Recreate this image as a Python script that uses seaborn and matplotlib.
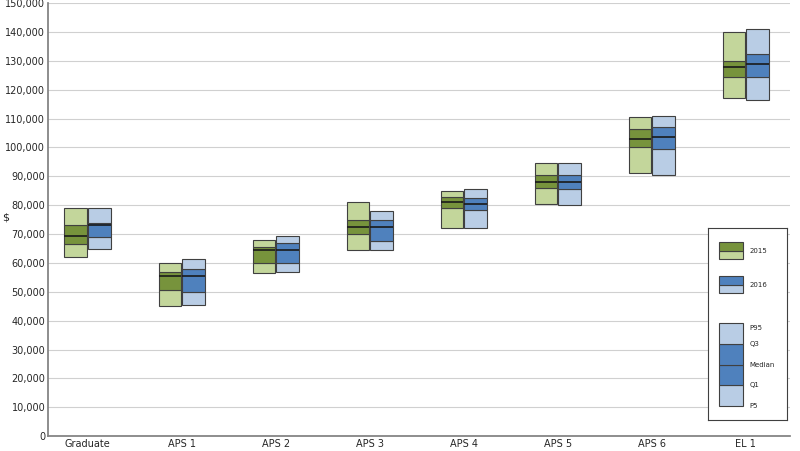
import matplotlib
matplotlib.use("Agg")
import matplotlib.pyplot as plt
import seaborn as sns
import numpy as np
from matplotlib.patches import Rectangle

categories = ["Graduate", "APS 1", "APS 2", "APS 3", "APS 4", "APS 5", "APS 6", "EL 1"]
# thousands of $
p5_2015 = [62, 45, 56.5, 64.5, 72, 80.5, 91, 117]
q1_2015 = [66.5, 50.5, 60, 70, 79, 86, 100, 124.5]
med_2015 = [69.5, 55.5, 64.5, 72.5, 81, 88, 103, 128]
q3_2015 = [73, 57, 65.5, 75, 83, 90.5, 106.5, 130]
p95_2015 = [79, 60, 68, 81, 85, 94.5, 110.5, 140]
p5_2016 = [65, 45.5, 57, 64.5, 72, 80, 90.5, 116.5]
q1_2016 = [69, 50, 60, 67.5, 78.5, 85.5, 99.5, 124.5]
med_2016 = [73, 55.5, 64.5, 72.5, 80.5, 88, 103.5, 129]
q3_2016 = [74, 58, 67, 75, 82.5, 90.5, 107, 132.5]
p95_2016 = [79, 61.5, 69.5, 78, 85.5, 94.5, 111, 141]

sns.set_theme(style="whitegrid")
fig = plt.figure(figsize=(8, 4.51), dpi=100)
ax = fig.add_axes([0.06, 0.033, 0.9275, 0.96])

edge = "#404040"
x = np.arange(len(categories))
w = 0.24
series = [
    (x - 0.125, p5_2015, q1_2015, med_2015, q3_2015, p95_2015, "#C3D69B", "#77933C"),
    (x + 0.125, p5_2016, q1_2016, med_2016, q3_2016, p95_2016, "#B9CDE5", "#4F81BD"),
]
for pos, p5, q1, md, q3, p95, light, dark in series:
    p5, q1, md, q3, p95 = [np.array(a) * 1000 for a in (p5, q1, md, q3, p95)]
    ax.bar(pos, q1 - p5, w, bottom=p5, color=light, edgecolor=edge, linewidth=0.8)
    ax.bar(pos, q3 - q1, w, bottom=q1, color=dark, edgecolor=edge, linewidth=0.8)
    ax.bar(pos, p95 - q3, w, bottom=q3, color=light, edgecolor=edge, linewidth=0.8)
    ax.hlines(md, pos - w / 2, pos + w / 2, color="#1a1a1a", linewidth=1.2)

ax.set_xlim(-0.42, 7.47)
ax.set_ylim(0, 150000)
ax.set_yticks(range(0, 150001, 10000))
ax.set_yticklabels([f"{v:,}" for v in range(0, 150001, 10000)], fontsize=7)
ax.set_xticks(x)
ax.set_xticklabels(categories, fontsize=7)
ax.tick_params(axis="both", pad=2, length=0)
ax.grid(axis="x", visible=False)
ax.grid(axis="y", color="#d0d0d0", linewidth=0.8)
for s in ["top", "right"]:
    ax.spines[s].set_visible(False)
for s in ["left", "bottom"]:
    ax.spines[s].set_color("#808080")
fig.text(0.003, 0.51, "$", fontsize=8)

# legend panel
lg = fig.add_axes([0.885, 0.068, 0.099, 0.426])
lg.set_xticks([])
lg.set_yticks([])
lg.set_facecolor("white")
for s in lg.spines.values():
    s.set_visible(True)
    s.set_color("#404040")
    s.set_linewidth(0.8)
items = [(0.88, "#77933C", "#C3D69B", "2015"), (0.70, "#4F81BD", "#B9CDE5", "2016")]
for yc, dark, light, lab in items:
    lg.add_patch(Rectangle((0.14, yc - 0.045), 0.3, 0.045, facecolor=light, edgecolor=edge, lw=0.8))
    lg.add_patch(Rectangle((0.14, yc), 0.3, 0.045, facecolor=dark, edgecolor=edge, lw=0.8))
    lg.text(0.52, yc, lab, fontsize=5, va="center")
segs = [(0.055, 0.11, "#B9CDE5"), (0.165, 0.11, "#4F81BD"), (0.275, 0.11, "#4F81BD"), (0.385, 0.11, "#B9CDE5")]
for y0, h, c in segs:
    lg.add_patch(Rectangle((0.14, y0), 0.3, h, facecolor=c, edgecolor=edge, lw=0.8))
for yv, lab in [(0.47, "P95"), (0.385, "Q3"), (0.275, "Median"), (0.165, "Q1"), (0.055, "P5")]:
    lg.text(0.52, yv, lab, fontsize=5, va="center")
lg.set_xlim(0, 1)
lg.set_ylim(-0.02, 1)

fig.savefig("out.png", dpi=100)
